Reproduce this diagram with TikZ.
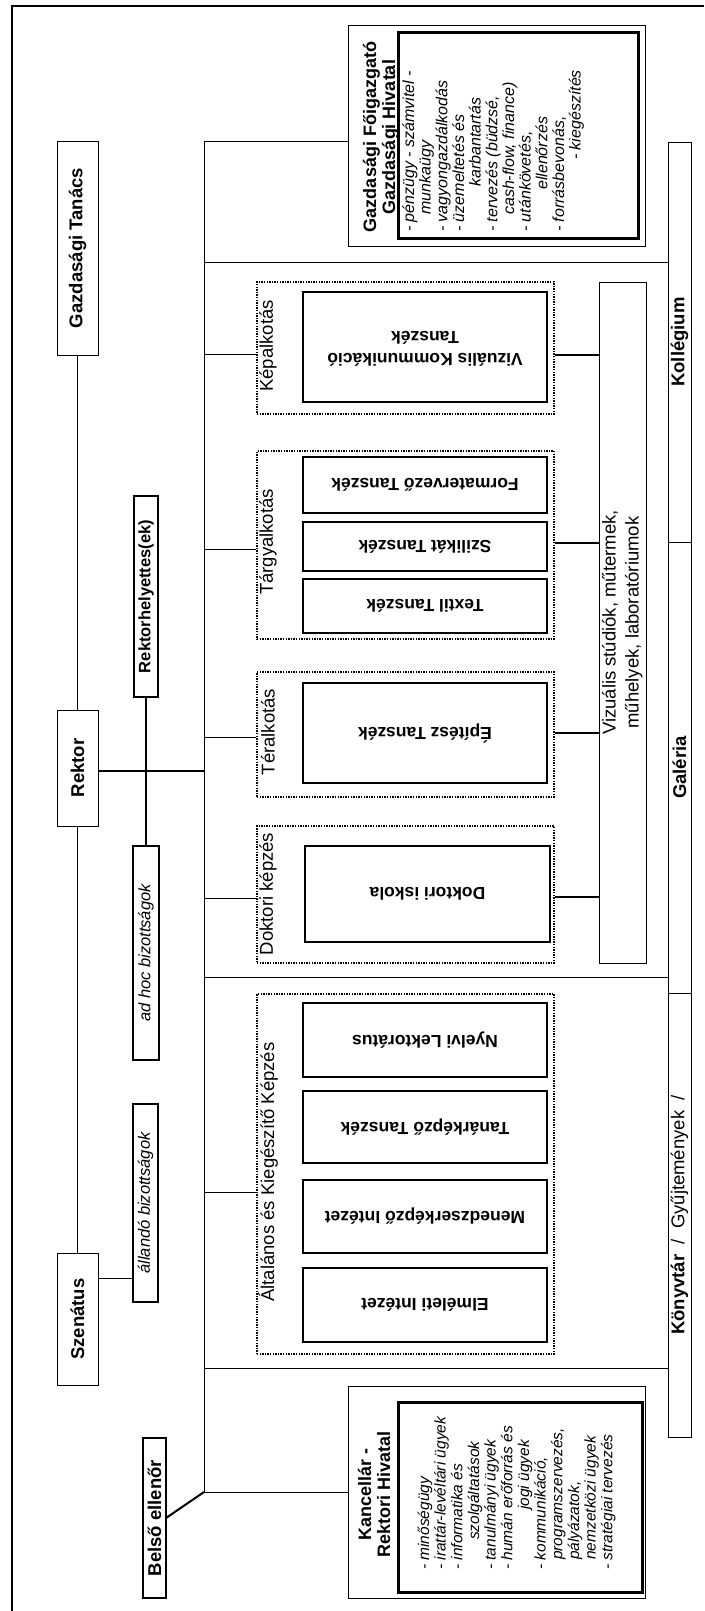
\documentclass[tikz,border=0pt]{standalone}
\usepackage{fontspec}
\setmainfont{Liberation Sans}
\usepackage{graphicx}
\begin{document}
\begin{tikzpicture}[x=1pt,y=-1pt,
  bx/.style={draw, line width=1pt, inner sep=0pt, outer sep=0pt, font=\bfseries\fontsize{18.5}{21}\selectfont},
  dept/.style={bx, line width=2.8pt, minimum width=244pt, font=\bfseries\fontsize{17.5}{21}\selectfont},
  grp/.style={draw, line width=1.4pt, dash pattern=on 1.4pt off 1.2pt, inner sep=0pt, minimum width=297pt},
  glab/.style={rotate=90, inner sep=0pt, font=\fontsize{18.5}{21}\selectfont},
  ttl/.style={rotate=90, inner sep=0pt, align=center, font=\bfseries\fontsize{18}{19}\selectfont},
  gitem/.style={rotate=90, anchor=base west, inner sep=0pt, font=\itshape\fontsize{16}{18}\selectfont},
  kitem/.style={gitem, font=\itshape\fontsize{15.5}{18}\selectfont},
  ln/.style={line width=1pt},
  lnb/.style={line width=2pt}]
\useasboundingbox (0,0) rectangle (704,1611);
% frame
\draw[line width=1.6pt] (704,6) -- (12,6) -- (12,1611);

% left column
\node[bx, minimum width=41pt, minimum height=214pt] (gt) at (77.5,248) {\rotatebox{90}{Gazdasági Tanács}};
\node[bx, minimum width=41pt, minimum height=116pt] (rektor) at (77.5,768) {\rotatebox{90}{Rektor}};
\node[bx, minimum width=41pt, minimum height=132pt] (szen) at (77.5,1319) {\rotatebox{90}{Szenátus}};
\node[bx, line width=2.5pt, minimum width=24pt, minimum height=201pt, font=\bfseries\fontsize{16.5}{18}\selectfont] (rh) at (146,596.5) {\rotatebox{90}{Rektorhelyettes(ek)}};
\node[bx, line width=2.5pt, minimum width=26pt, minimum height=214pt, font=\itshape\fontsize{16.5}{18}\selectfont] (adhoc) at (146,953) {\rotatebox{90}{ad hoc bizottságok}};
\node[bx, line width=2pt, minimum width=25pt, minimum height=198pt, font=\itshape\fontsize{16.5}{18}\selectfont] (allando) at (145.5,1203) {\rotatebox{90}{állandó bizottságok}};
\node[bx, line width=1.2pt, minimum width=23pt, minimum height=160pt] (belso) at (154.5,1518) {\rotatebox{90}{Belső ellenőr}};

% offices
\node[bx, minimum width=297pt, minimum height=220pt] (gfo) at (496.5,136) {};
\node[bx, line width=3pt, minimum width=240pt, minimum height=205pt] (gfoi) at (518,135.5) {};
\node[ttl] (gfot) at (381,137) {Gazdasági Főigazgató\\Gazdasági Hivatal};
\node[bx, minimum width=297pt, minimum height=212pt] (kanc) at (496.5,1492) {};
\node[bx, line width=3pt, minimum width=244pt, minimum height=190pt] (kanci) at (520,1497) {};
\node[ttl] (kanct) at (374,1494) {Kancellár -\\Rektori Hivatal};

% Gazdasagi list
\node[gitem] (g1) at (414,232) {- pénzügy - számvitel -};
\node[gitem] (g2) at (430.7,215) {munkaügy};
\node[gitem] (g3) at (447.3,232) {- vagyongazdálkodás};
\node[gitem] (g4) at (464,232) {- üzemeltetés és};
\node[gitem] (g5) at (480.7,187) {karbantartás};
\node[gitem] (g6) at (497.3,232) {- tervezés (büdzsé,};
\node[gitem] (g7) at (514,215) {cash-flow, finance)};
\node[gitem] (g8) at (530.7,232) {- utánkövetés,};
\node[gitem] (g9) at (547.3,190) {ellenőrzés};
\node[gitem] (g10) at (564,232) {- forrásbevonás,};
\node[gitem] (g11) at (580.7,160) {- kiegészítés};

% Kancellar list
\node[kitem] (k1) at (429,1570) {- minőségügy};
\node[kitem] (k2) at (445.7,1570) {- irattár-levéltári ügyek};
\node[kitem] (k3) at (462.3,1570) {- informatika és};
\node[kitem] (k4) at (479,1540) {szolgáltatások};
\node[kitem] (k5) at (495.7,1570) {- tanulmányi ügyek};
\node[kitem] (k6) at (512.3,1570) {- humán erőforrás és};
\node[kitem] (k7) at (529,1510) {jogi ügyek};
\node[kitem] (k8) at (545.7,1570) {- kommunikáció,};
\node[kitem] (k9) at (562.3,1560) {programszervezés,};
\node[kitem] (k10) at (579,1560) {pályázatok,};
\node[kitem] (k11) at (595.7,1560) {nemzetközi ügyek};
\node[kitem] (k12) at (612.3,1570) {- stratégiai tervezés};

% groups
\node[grp, minimum height=132pt] (kep) at (405.5,348) {};
\node[grp, minimum height=188pt] (targ) at (405.5,545) {};
\node[grp, minimum height=125pt] (ter) at (405.5,734.5) {};
\node[grp, minimum height=137pt] (dok) at (405.5,894.5) {};
\node[grp, minimum height=360pt] (alt) at (405.5,1174) {};
\node[glab] (kepl) at (268,346) {Képalkotás};
\node[glab] (targl) at (268,542) {Tárgyalkotás};
\node[glab] (terl) at (268,732) {Téralkotás};
\node[glab] (dokl) at (268,894) {Doktori képzés};
\node[glab] (altl) at (268,1172) {Általános és Kiegészítő Képzés};

% departments
\node[dept, minimum height=110pt] (vk) at (425,347) {\rotatebox{180}{\fontsize{17.5}{22}\selectfont\begin{tabular}{@{}c@{}}Vizuális Kommunikáció\\Tanszék\end{tabular}}};
\node[dept, minimum height=56pt] (form) at (425,485) {\rotatebox{180}{Formatervező Tanszék}};
\node[dept, minimum height=49pt] (szil) at (425,546.5) {\rotatebox{180}{Szilikát Tanszék}};
\node[dept, minimum height=54pt] (tex) at (425,606) {\rotatebox{180}{Textil Tanszék}};
\node[dept, minimum height=100pt] (epit) at (425,733) {\rotatebox{180}{Építész Tanszék}};
\node[dept, minimum width=245pt, minimum height=96pt] (dokisk) at (427.5,894) {\rotatebox{180}{Doktori iskola}};
\node[dept, minimum height=74pt] (nyelv) at (425,1040) {\rotatebox{180}{Nyelvi Lektorátus}};
\node[dept, minimum height=72pt] (tanar) at (425,1127) {\rotatebox{180}{Tanárképző Tanszék}};
\node[dept, minimum height=73pt] (men) at (425,1216.5) {\rotatebox{180}{Menedzserképző Intézet}};
\node[dept, minimum height=74pt] (elm) at (425,1305) {\rotatebox{180}{Elméleti Intézet}};

% studios and right boxes
\node[bx, minimum width=47pt, minimum height=681pt, font=\fontsize{18.5}{23}\selectfont] (vizs) at (622.5,622.5) {\rotatebox{90}{\begin{tabular}{@{}c@{}}Vizuális stúdiók, műtermek,\\műhelyek, laboratóriumok\end{tabular}}};
\node[bx, minimum width=23pt, minimum height=400pt] (koll) at (679.5,342) {\rotatebox{90}{Kollégium}};
\node[bx, minimum width=23pt, minimum height=451pt] (gal) at (679.5,767.5) {\rotatebox{90}{Galéria}};
\node[bx, minimum width=23pt, minimum height=444pt] (konyv) at (679.5,1215) {\rotatebox{90}{Könyvtár\ \ \mdseries/\ \ Gyűjtemények\ \ /}};

% connectors
\coordinate (tTop) at (204,141);
\coordinate (tBot) at (204,1492);
\draw[ln] (tTop) -- (tBot);
\draw[ln] (tTop) -- (tTop -| gfo.west);
\draw[ln] (tBot) -- (tBot -| kanc.west);
\draw[lnb] (belso.east) -- (tBot);
\draw[ln] (gt.south) -- (rektor.north);
\draw[ln] (rektor.south) -- (szen.north);
\coordinate (rk) at (204,771);
\draw[line width=1.4pt] (rektor.east |- rk) -- (rk);
\draw[lnb] (rh.south) -- (adhoc.north);
\coordinate (sa) at (110,1278);
\draw[ln] (szen.east |- sa) -- (allando.west |- sa);
\coordinate (b1) at (204,262);
\coordinate (b2) at (204,977);
\coordinate (b3) at (204,1368);
\draw[ln] (b1) -- (b1 -| koll.west);
\draw[ln] (b2) -- (b2 -| gal.west);
\draw[ln] (b3) -- (b3 -| konyv.west);
\foreach \g/\y in {kep/354, targ/549, ter/737, dok/898, alt/1192}{
  \coordinate (j\g) at (204,\y);
  \draw[ln] (j\g) -- (j\g -| \g.west);
}
\foreach \g/\y in {kep/355, targ/543, ter/733, dok/897}{
  \coordinate (r\g) at (580,\y);
  \draw[lnb] (\g.east |- r\g) -- (vizs.west |- r\g);
}
\end{tikzpicture}
\end{document}
